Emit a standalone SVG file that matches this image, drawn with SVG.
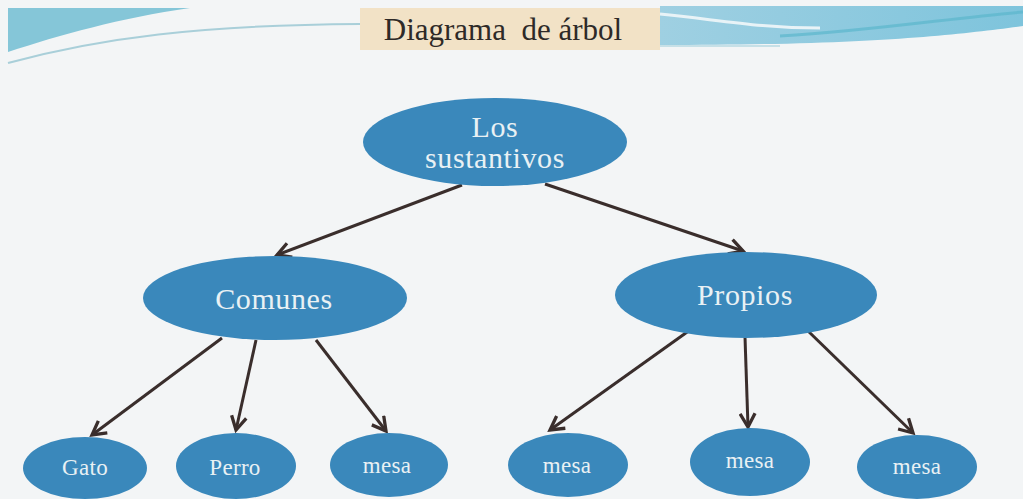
<svg xmlns="http://www.w3.org/2000/svg" width="1023" height="499" viewBox="0 0 1023 499">
<defs>
<style>
.node{fill:#3a88bb}
.lbl{font-family:"Liberation Serif","DejaVu Serif",serif;fill:#e9f1f4;text-anchor:middle}
.big{font-size:30px;letter-spacing:0.6px}
.small{font-size:23px;letter-spacing:0.3px}
.edge{stroke:#3a2e2c;stroke-width:3;fill:none;marker-end:url(#arr)}
</style>
<marker id="arr" viewBox="0 0 12 12" refX="10" refY="6" markerWidth="6" markerHeight="6" orient="auto" markerUnits="strokeWidth">
<path d="M1,1 L10,6 L1,11" fill="none" stroke="#3a2e2c" stroke-width="2.2"/>
</marker>
<linearGradient id="rg" x1="0" y1="0" x2="1" y2="0">
<stop offset="0" stop-color="#9fd0e2"/>
<stop offset="1" stop-color="#7ec4dc"/>
</linearGradient>
</defs>
<rect width="1023" height="499" fill="#f3f5f6"/>
<g id="header">
<path d="M8,8 L190,8 C120,18 60,35 8,52 Z" fill="#85c6d8"/>
<path d="M8,63 C100,38 200,25 360,24" fill="none" stroke="#a9cfd9" stroke-width="2"/>
<path d="M660,6 L1023,6 L1023,26 C960,34 880,45 660,45 Z" fill="url(#rg)"/>
<path d="M660,14 C720,20 760,28 820,28" fill="none" stroke="#e8f3f7" stroke-width="3"/>
<path d="M780,36 C880,30 950,18 1023,12" fill="none" stroke="#5bb6cc" stroke-width="3" opacity="0.7"/>
<path d="M660,46 L780,46" fill="none" stroke="#b7d8e2" stroke-width="1.5"/>
<rect x="360" y="8" width="300" height="42" fill="#f2e2c6"/>
<text x="503" y="40" font-family="'Liberation Serif','DejaVu Serif',serif" font-size="31" fill="#2e2a28" text-anchor="middle" xml:space="preserve">Diagrama  de árbol</text>
</g>
<g id="connectors">
<line class="edge" x1="462" y1="185" x2="277" y2="255"/>
<line class="edge" x1="545" y1="184" x2="743" y2="251"/>
<line class="edge" x1="222" y1="338" x2="92" y2="435"/>
<line class="edge" x1="256" y1="340" x2="236" y2="430"/>
<line class="edge" x1="316" y1="340" x2="386" y2="431"/>
<line class="edge" x1="690" y1="330" x2="550" y2="430"/>
<line class="edge" x1="745" y1="337" x2="748" y2="427"/>
<line class="edge" x1="807" y1="330" x2="913" y2="433"/>
</g>
<g id="n-root"><ellipse class="node" cx="495" cy="142" rx="132" ry="44"/>
<text class="lbl big" x="495" y="137">Los</text><text class="lbl big" x="495" y="168">sustantivos</text></g>
<g id="n-comunes"><ellipse class="node" cx="275" cy="298" rx="132" ry="42"/>
<text class="lbl big" x="274" y="309">Comunes</text></g>
<g id="n-propios"><ellipse class="node" cx="746" cy="295" rx="131" ry="43"/>
<text class="lbl big" x="745" y="305">Propios</text></g>
<g id="n-gato"><ellipse class="node" cx="85" cy="468" rx="62" ry="31"/>
<text class="lbl small" x="85" y="475">Gato</text></g>
<g id="n-perro"><ellipse class="node" cx="236" cy="466" rx="60" ry="33"/>
<text class="lbl small" x="235" y="475">Perro</text></g>
<g id="n-mesa1"><ellipse class="node" cx="389" cy="465" rx="59" ry="32"/>
<text class="lbl small" x="387" y="473">mesa</text></g>
<g id="n-mesa2"><ellipse class="node" cx="568" cy="465" rx="60" ry="32"/>
<text class="lbl small" x="567" y="473">mesa</text></g>
<g id="n-mesa3"><ellipse class="node" cx="750" cy="462" rx="60" ry="34"/>
<text class="lbl small" x="750" y="468">mesa</text></g>
<g id="n-mesa4"><ellipse class="node" cx="917" cy="467" rx="60" ry="32"/>
<text class="lbl small" x="917" y="474">mesa</text></g>
</svg>
